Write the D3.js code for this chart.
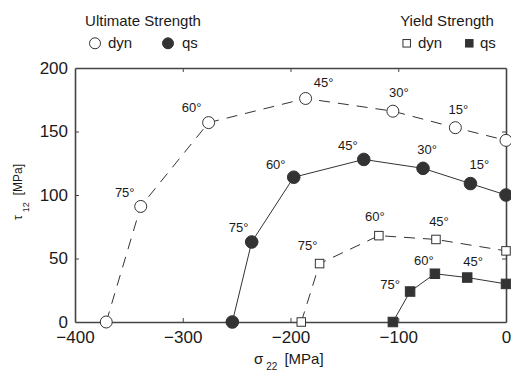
<!DOCTYPE html>
<html><head><meta charset="utf-8">
<script src="https://cdn.jsdelivr.net/npm/d3@7"></script>
<style>
html,body{margin:0;padding:0;background:#fff;}
svg{display:block;font-family:"Liberation Sans",Arial,Helvetica,sans-serif;}
</style></head><body>
<svg id="chart" width="511" height="371"></svg>
<script>
// Failure envelopes in the σ22–τ12 plane, one point per fibre angle (90° … 0°)
const ultDynSigma = [-371, -339, -276, -186, -105, -47, 0];
const ultDynTau   = [0, 91, 157, 176, 166, 153, 143];
const ultDynAngle = ["", "75°", "60°", "45°", "30°", "15°", ""];

const ultQsSigma = [-254, -236, -197, -132, -77, -33, 0];
const ultQsTau   = [0, 63, 114, 128, 121, 109, 100];
const ultQsAngle = ["", "75°", "60°", "45°", "30°", "15°", ""];

const yldDynSigma = [-190, -173, -118, -65, 0];
const yldDynTau   = [0, 46, 68, 65, 56];
const yldDynAngle = ["", "75°", "60°", "45°", ""];

const yldQsSigma = [-105, -89, -66, -36, 0];
const yldQsTau   = [0, 24, 38, 35, 30];
const yldQsAngle = ["", "75°", "60°", "45°", ""];

const xTicks = [-400, -300, -200, -100, 0];
const yTicks = [0, 50, 100, 150, 200];

const legendTitles = ["Ultimate Strength", "Yield Strength"];
const legendNames = ["dyn", "qs"];

// ---- layout ----
const W = 511, H = 371;
const M = {top: 68, right: 5, bottom: 49, left: 75};
const ink = "#333";

const svg = d3.select("#chart");
const x = d3.scaleLinear().domain([-400, 0]).range([M.left, W - M.right]);
const y = d3.scaleLinear().domain([0, 200]).range([H - M.bottom, M.top]);

// per-series drawing style; label offsets are pixel nudges of each angle tag
const series = [
  {sigma: ultDynSigma, tau: ultDynTau, angle: ultDynAngle, shape: "circle", filled: false, dashed: true,
   off: [null, [-16, -14], [-17, -15], [18, -16], [6, -19], [3, -18], null]},
  {sigma: ultQsSigma, tau: ultQsTau, angle: ultQsAngle, shape: "circle", filled: true, dashed: false,
   off: [null, [-13, -14], [-18, -13], [-16, -14], [4, -19], [9, -19], null]},
  {sigma: yldDynSigma, tau: yldDynTau, angle: yldDynAngle, shape: "square", filled: false, dashed: true,
   off: [null, [-12, -18], [-4, -19], [3, -18], null]},
  {sigma: yldQsSigma, tau: yldQsTau, angle: yldQsAngle, shape: "square", filled: true, dashed: false,
   off: [null, [-20, -7], [-11, -13], [6, -16], null]}
];

function marker(g, cx, cy, shape, filled, scale) {
  const k = scale || 1;
  if (shape === "circle") {
    const r = (filled ? 6.3 : 6) * k;
    g.append("circle").attr("cx", cx).attr("cy", cy).attr("r", r)
      .attr("fill", filled ? ink : "#fff").attr("stroke", ink).attr("stroke-width", 1);
  } else {
    const s = (filled ? 9.5 : 8.5) * k;
    g.append("rect").attr("x", cx - s / 2).attr("y", cy - s / 2).attr("width", s).attr("height", s)
      .attr("fill", filled ? ink : "#fff").attr("stroke", ink).attr("stroke-width", 1);
  }
}

// ---- axes box ----
const axisColor = "#444";
const gx = svg.append("g").attr("transform", `translate(0,${H - M.bottom})`)
  .call(d3.axisBottom(x).tickValues(xTicks).tickSizeInner(-4).tickSizeOuter(0).tickPadding(9));
const gxt = svg.append("g").attr("transform", `translate(0,${M.top})`)
  .call(d3.axisTop(x).tickValues(xTicks).tickSizeInner(-4).tickSizeOuter(0).tickFormat(""));
const gy = svg.append("g").attr("transform", `translate(${M.left},0)`)
  .call(d3.axisLeft(y).tickValues(yTicks).tickSizeInner(-4).tickSizeOuter(0).tickPadding(7));
const gyr = svg.append("g").attr("transform", `translate(${W - M.right},0)`)
  .call(d3.axisRight(y).tickValues(yTicks).tickSizeInner(-4).tickSizeOuter(0).tickFormat(""));

[gx, gxt, gy, gyr].forEach(g => {
  g.select(".domain").attr("stroke", axisColor).attr("stroke-width", 1.6);
  g.selectAll(".tick line").attr("stroke", axisColor).attr("stroke-width", 1);
  g.selectAll(".tick text").attr("fill", "#1a1a1a").attr("font-size", 17)
    .attr("font-family", "'Liberation Sans',Arial,Helvetica,sans-serif");
});
// hide end ticks that sit on the frame corners
[gx, gxt].forEach(g => g.selectAll(".tick line").filter(d => d === -400 || d === 0).remove());
[gy, gyr].forEach(g => g.selectAll(".tick line").filter(d => d === 0 || d === 200).remove());

// ---- series ----
const line = d3.line().x(d => x(d[0])).y(d => y(d[1]));
series.forEach(s => {
  const pts = s.sigma.map((v, i) => [v, s.tau[i]]);
  svg.append("path").datum(pts).attr("d", line)
    .attr("fill", "none").attr("stroke", ink).attr("stroke-width", 1)
    .attr("stroke-dasharray", s.dashed ? "11,8" : null);
});
series.forEach(s => {
  const g = svg.append("g");
  s.sigma.forEach((v, i) => marker(g, x(v), y(s.tau[i]), s.shape, s.filled));
  s.angle.forEach((a, i) => {
    if (!a) return;
    const o = s.off[i];
    svg.append("text").attr("x", x(s.sigma[i]) + o[0]).attr("y", y(s.tau[i]) + o[1] + 4.5)
      .attr("text-anchor", "middle").attr("font-size", 13).attr("fill", "#1a1a1a").text(a);
  });
});

// ---- axis titles ----
const xl = svg.append("text").attr("x", 254).attr("y", 364).attr("font-size", 15).attr("fill", "#1a1a1a");
xl.append("tspan").text("σ");
xl.append("tspan").attr("font-size", 10).attr("dx", 3).attr("dy", 6).text("22");
xl.append("tspan").attr("dx", 7).attr("dy", -6).text("[MPa]");

const yl = svg.append("text").attr("transform", "translate(21.5,220) rotate(-90)")
  .attr("font-size", 12).attr("fill", "#1a1a1a");
yl.append("tspan").text("τ");
yl.append("tspan").attr("font-size", 9).attr("dx", 3).attr("dy", 7).text("12");
yl.append("tspan").attr("dx", 7).attr("dy", -7).text("[MPa]");

// ---- legends ----
const legendLayout = [
  {cx: 143, shape: "circle", items: [[95, 108], [168, 182]]},
  {cx: 447, shape: "square", items: [[406.7, 418], [469.3, 480]]}
];
legendLayout.forEach((L, gi) => {
  svg.append("text").attr("x", L.cx).attr("y", 26).attr("text-anchor", "middle")
    .attr("font-size", 15).attr("fill", "#1a1a1a").text(legendTitles[gi]);
  const g = svg.append("g");
  L.items.forEach((it, j) => {
    const filled = j === 1;
    if (L.shape === "circle") {
      marker(g, it[0], 43.3, "circle", filled, 5.5 / (filled ? 6.3 : 6));
    } else {
      const s = 7.5;
      g.append("rect").attr("x", it[0] - s / 2).attr("y", 43.3 - s / 2).attr("width", s).attr("height", s)
        .attr("fill", filled ? ink : "#fff").attr("stroke", ink).attr("stroke-width", 1);
    }
    svg.append("text").attr("x", it[1]).attr("y", 48).attr("font-size", 15)
      .attr("fill", "#1a1a1a").text(legendNames[j]);
  });
});
</script>
</body></html>
